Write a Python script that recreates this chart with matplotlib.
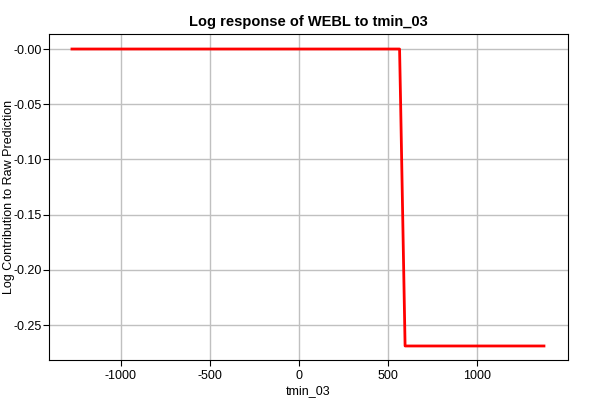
import matplotlib
matplotlib.use("Agg")
import matplotlib.pyplot as plt

# Response curve values
tmin = [-1275, 565, 571, 596, 1376]
log_contrib = [0.0, 0.0, -0.05, -0.269, -0.269]

xticks = [-1000, -500, 0, 500, 1000]
yticks = [0.0, -0.05, -0.10, -0.15, -0.20, -0.25]
ylabels = ["-0.00", "-0.05", "-0.10", "-0.15", "-0.20", "-0.25"]

plt.rcParams['font.family'] = ['Liberation Sans', 'DejaVu Sans']
plt.rcParams['axes.unicode_minus'] = False

fig = plt.figure(figsize=(6, 4), dpi=100)
ax = fig.add_axes([49/600, 40/400, 519/600, 326/400])

ax.plot(tmin, log_contrib, color='red', linewidth=2)

ax.set_xlim(-1404, 1511)
ax.set_ylim(-0.2817, 0.0136)
ax.set_xticks(xticks)
ax.set_xticklabels([str(t) for t in xticks])
ax.set_yticks(yticks)
ax.set_yticklabels(ylabels)
ax.grid(True, color='#c0c0c0', linewidth=1)
ax.set_axisbelow(True)
ax.tick_params(labelsize=9, length=4, color='black')
ax.tick_params(axis='y', pad=1)

ax.set_title('Log response of WEBL to tmin_03', fontsize=10.5, fontweight='bold')
ax.set_xlabel('tmin_03', fontsize=9, labelpad=2)
ax.set_ylabel('Log Contribution to Raw Prediction', fontsize=9)
ax.yaxis.set_label_coords(-0.066, 0.5)

fig.savefig('out.png', dpi=100)
